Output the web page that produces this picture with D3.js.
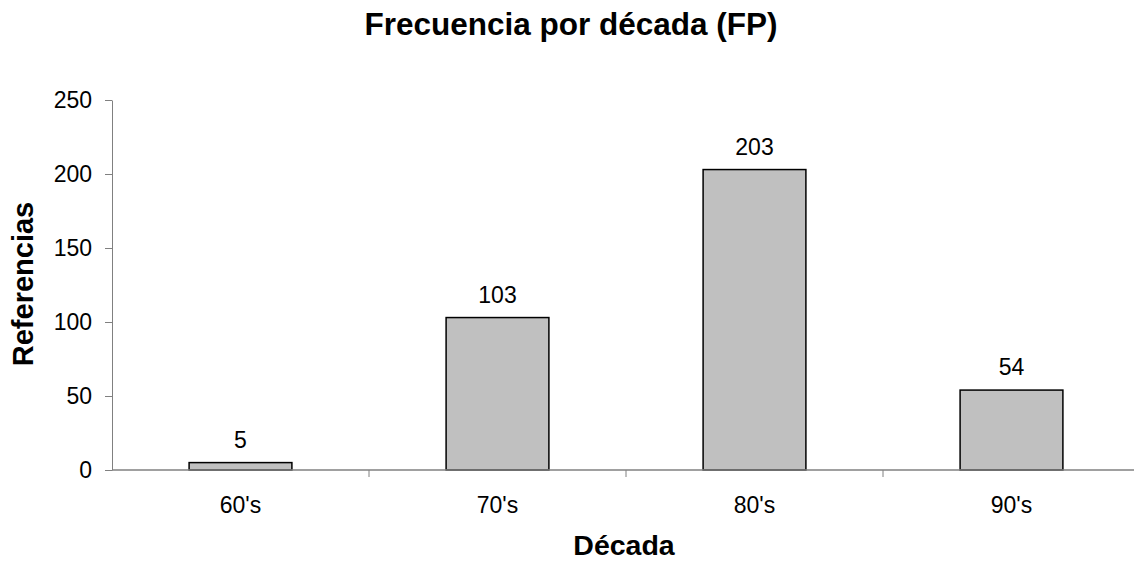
<!DOCTYPE html>
<html><head><meta charset="utf-8">
<script src="https://cdn.jsdelivr.net/npm/d3@7"></script>
<style>body{margin:0;background:#fff}svg{display:block;font-family:"Liberation Sans",Arial,sans-serif}</style>
</head><body>
<svg id="c" width="1134" height="562"></svg>
<script>
const categories = ["60's","70's","80's","90's"];
const values = [5,103,203,54];
const yTicks = [0,50,100,150,200,250];
const title = "Frecuencia por década (FP)";
const xTitle = "Década";
const yTitle = "Referencias";

const svg = d3.select("#c");
const mLeft = 112, mRight = 1140, mTop = 100, mBottom = 470;
const x = d3.scaleBand().domain(categories).range([mLeft,mRight]).paddingInner(0.6).paddingOuter(0.3);
const y = d3.scaleLinear().domain([0,250]).range([mBottom,mTop]);

// bars
svg.selectAll("rect.bar").data(values).join("rect")
  .attr("x",(d,i)=>x(categories[i])).attr("width",x.bandwidth())
  .attr("y",d=>y(d)).attr("height",d=>y(0)-y(d))
  .attr("fill","#c0c0c0").attr("stroke","#000").attr("stroke-width",1.5);

// y axis
const ya = svg.append("g").attr("transform",`translate(${mLeft},0)`)
  .call(d3.axisLeft(y).tickValues(yTicks).tickSize(7).tickPadding(13).tickSizeOuter(0));
ya.select(".domain").attr("stroke","#808080");
ya.selectAll(".tick line").attr("stroke","#808080");
ya.selectAll("text").attr("font-size",23).attr("fill","#000").attr("font-family","Liberation Sans, Arial, sans-serif");

// x axis
const step = x.step();
const xa = svg.append("g").attr("transform",`translate(0,${mBottom})`);
xa.append("line").attr("x1",mLeft).attr("x2",1134).attr("stroke","#808080").attr("stroke-width",1.5);
xa.selectAll("line.tk").data(categories.slice(1)).join("line")
  .attr("x1",d=>x(d)-x.paddingInner()*step/2).attr("x2",d=>x(d)-x.paddingInner()*step/2)
  .attr("y1",0).attr("y2",7).attr("stroke","#808080");
xa.selectAll("text").data(categories).join("text")
  .attr("x",d=>x(d)+x.bandwidth()/2).attr("y",43).attr("text-anchor","middle")
  .attr("font-size",23).text(d=>d);

// value labels
svg.selectAll("text.val").data(values).join("text").attr("class","val")
  .attr("x",(d,i)=>x(categories[i])+x.bandwidth()/2).attr("y",d=>y(d)-15)
  .attr("text-anchor","middle").attr("font-size",23).text(d=>d);

// titles
svg.append("text").attr("x",571).attr("y",35).attr("text-anchor","middle")
  .attr("font-size",31.5).attr("font-weight","bold").text(title);
svg.append("text").attr("x",624).attr("y",555).attr("text-anchor","middle")
  .attr("font-size",28.5).attr("font-weight","bold").text(xTitle);
svg.append("text").attr("transform","translate(33,284) rotate(-90)").attr("text-anchor","middle")
  .attr("font-size",29).attr("font-weight","bold").text(yTitle);
</script>
</body></html>
